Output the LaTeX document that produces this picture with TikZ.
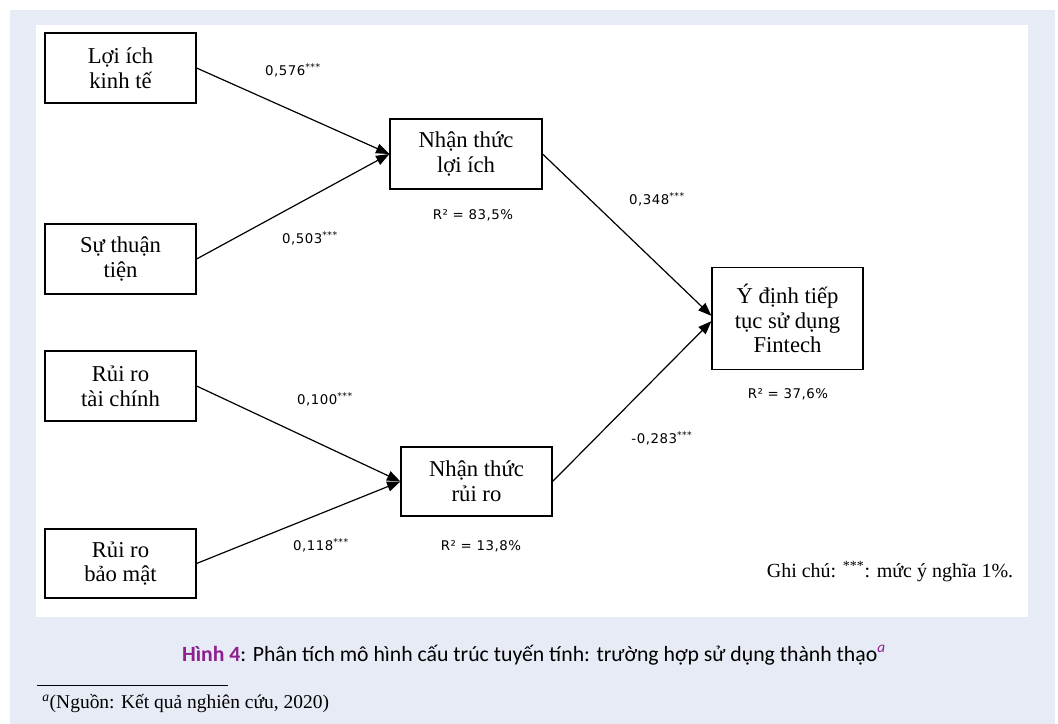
\documentclass[tikz,border=0pt]{standalone}
\usepackage{fontspec}
\setmainfont{Liberation Serif}
\newfontfamily\labfont[LetterSpace=4]{DejaVu Sans}
\newfontfamily\capfont{Carlito}
\usetikzlibrary{arrows.meta}
\definecolor{bgblue}{HTML}{E7EBF5}
\definecolor{hinh}{HTML}{8E1F8E}
\begin{document}
\begin{tikzpicture}[x=0.75pt,y=-0.75pt,
  box/.style={draw,line width=0.9pt,align=center,font=\fontsize{17}{18.5}\selectfont,
    inner sep=0pt,minimum width=113.25pt,minimum height=52.5pt},
  coef/.style={font=\labfont\fontsize{10}{11}\selectfont,inner sep=0pt},
  link/.style={line width=0.9pt,-{Triangle[length=10pt,width=7.5pt]}}]
\useasboundingbox (0,0) rectangle (1058,724);
\fill[bgblue] (10,10) rectangle (1055,724);
\fill[white] (36,25) rectangle (1028,617);
% boxes
\node[box] (likt) at (120.5,68) {Lợi ích\\kinh tế};
\node[box] (stt) at (120.5,259) {Sự thuận\\tiện};
\node[box] (rrtc) at (120.5,386) {Rủi ro\\tài chính};
\node[box,minimum height=51.75pt] (rrbm) at (120.5,563.5) {Rủi ro\\bảo mật};
\node[box,minimum width=114pt] (ntli) at (466,154) {Nhận thức\\lợi ích};
\node[box,minimum height=51.75pt] (ntrr) at (476.5,481.5) {Nhận thức\\rủi ro};
\node[box,minimum height=76.5pt] (yd) at (787.5,318.5) {Ý định tiếp\\tục sử dụng\\Fintech};
% connectors
\draw[link] (likt.east) -- (ntli.west);
\draw[link] (stt.east) -- (ntli.west);
\draw[link] (rrtc.east) -- (ntrr.west);
\draw[link] (rrbm.east) -- (ntrr.west);
\draw[link] (ntli.east) -- ([yshift=2pt]yd.west);
\draw[link] (ntrr.east) -- ([yshift=-2pt]yd.west);
% coefficients
\node[coef] (c1) at (293,70) {0,576\textsuperscript{***}};
\node[coef] (c2) at (310,238) {0,503\textsuperscript{***}};
\node[coef] (c3) at (657,199) {0,348\textsuperscript{***}};
\node[coef] (c4) at (662,438) {-0,283\textsuperscript{***}};
\node[coef] (c5) at (325,399) {0,100\textsuperscript{***}};
\node[coef] (c6) at (321,545) {0,118\textsuperscript{***}};
\node[coef] (r1) at (473,215) {R² = 83,5\%};
\node[coef] (r2) at (481,546) {R² = 13,8\%};
\node[coef] (r3) at (788,394) {R² = 37,6\%};
% note
\node[font=\fontsize{15}{17}\selectfont,inner sep=0pt] (note) at (890,572) {Ghi chú: \textsuperscript{***}: mức ý nghĩa 1\%.};
% caption
\node[font=\capfont\fontsize{16.3}{18}\selectfont,inner sep=0pt] (cap) at (534,655)
  {\textcolor{hinh}{\textbf{Hình 4}}: Phân tích mô hình cấu trúc tuyến tính: trường hợp sử dụng thành thạo\textsuperscript{\textcolor{hinh}{\textit{a}}}};
% footnote
\coordinate (fa) at (37,685);
\coordinate (fb) at (228,685);
\draw[line width=0.6pt] (fa) -- (fb);
\node[font=\fontsize{14.6}{16}\selectfont,anchor=west,inner sep=0pt] (fn) at (42,704)
  {\textsuperscript{\textit{a}}(Nguồn: Kết quả nghiên cứu, 2020)};
\end{tikzpicture}
\end{document}
